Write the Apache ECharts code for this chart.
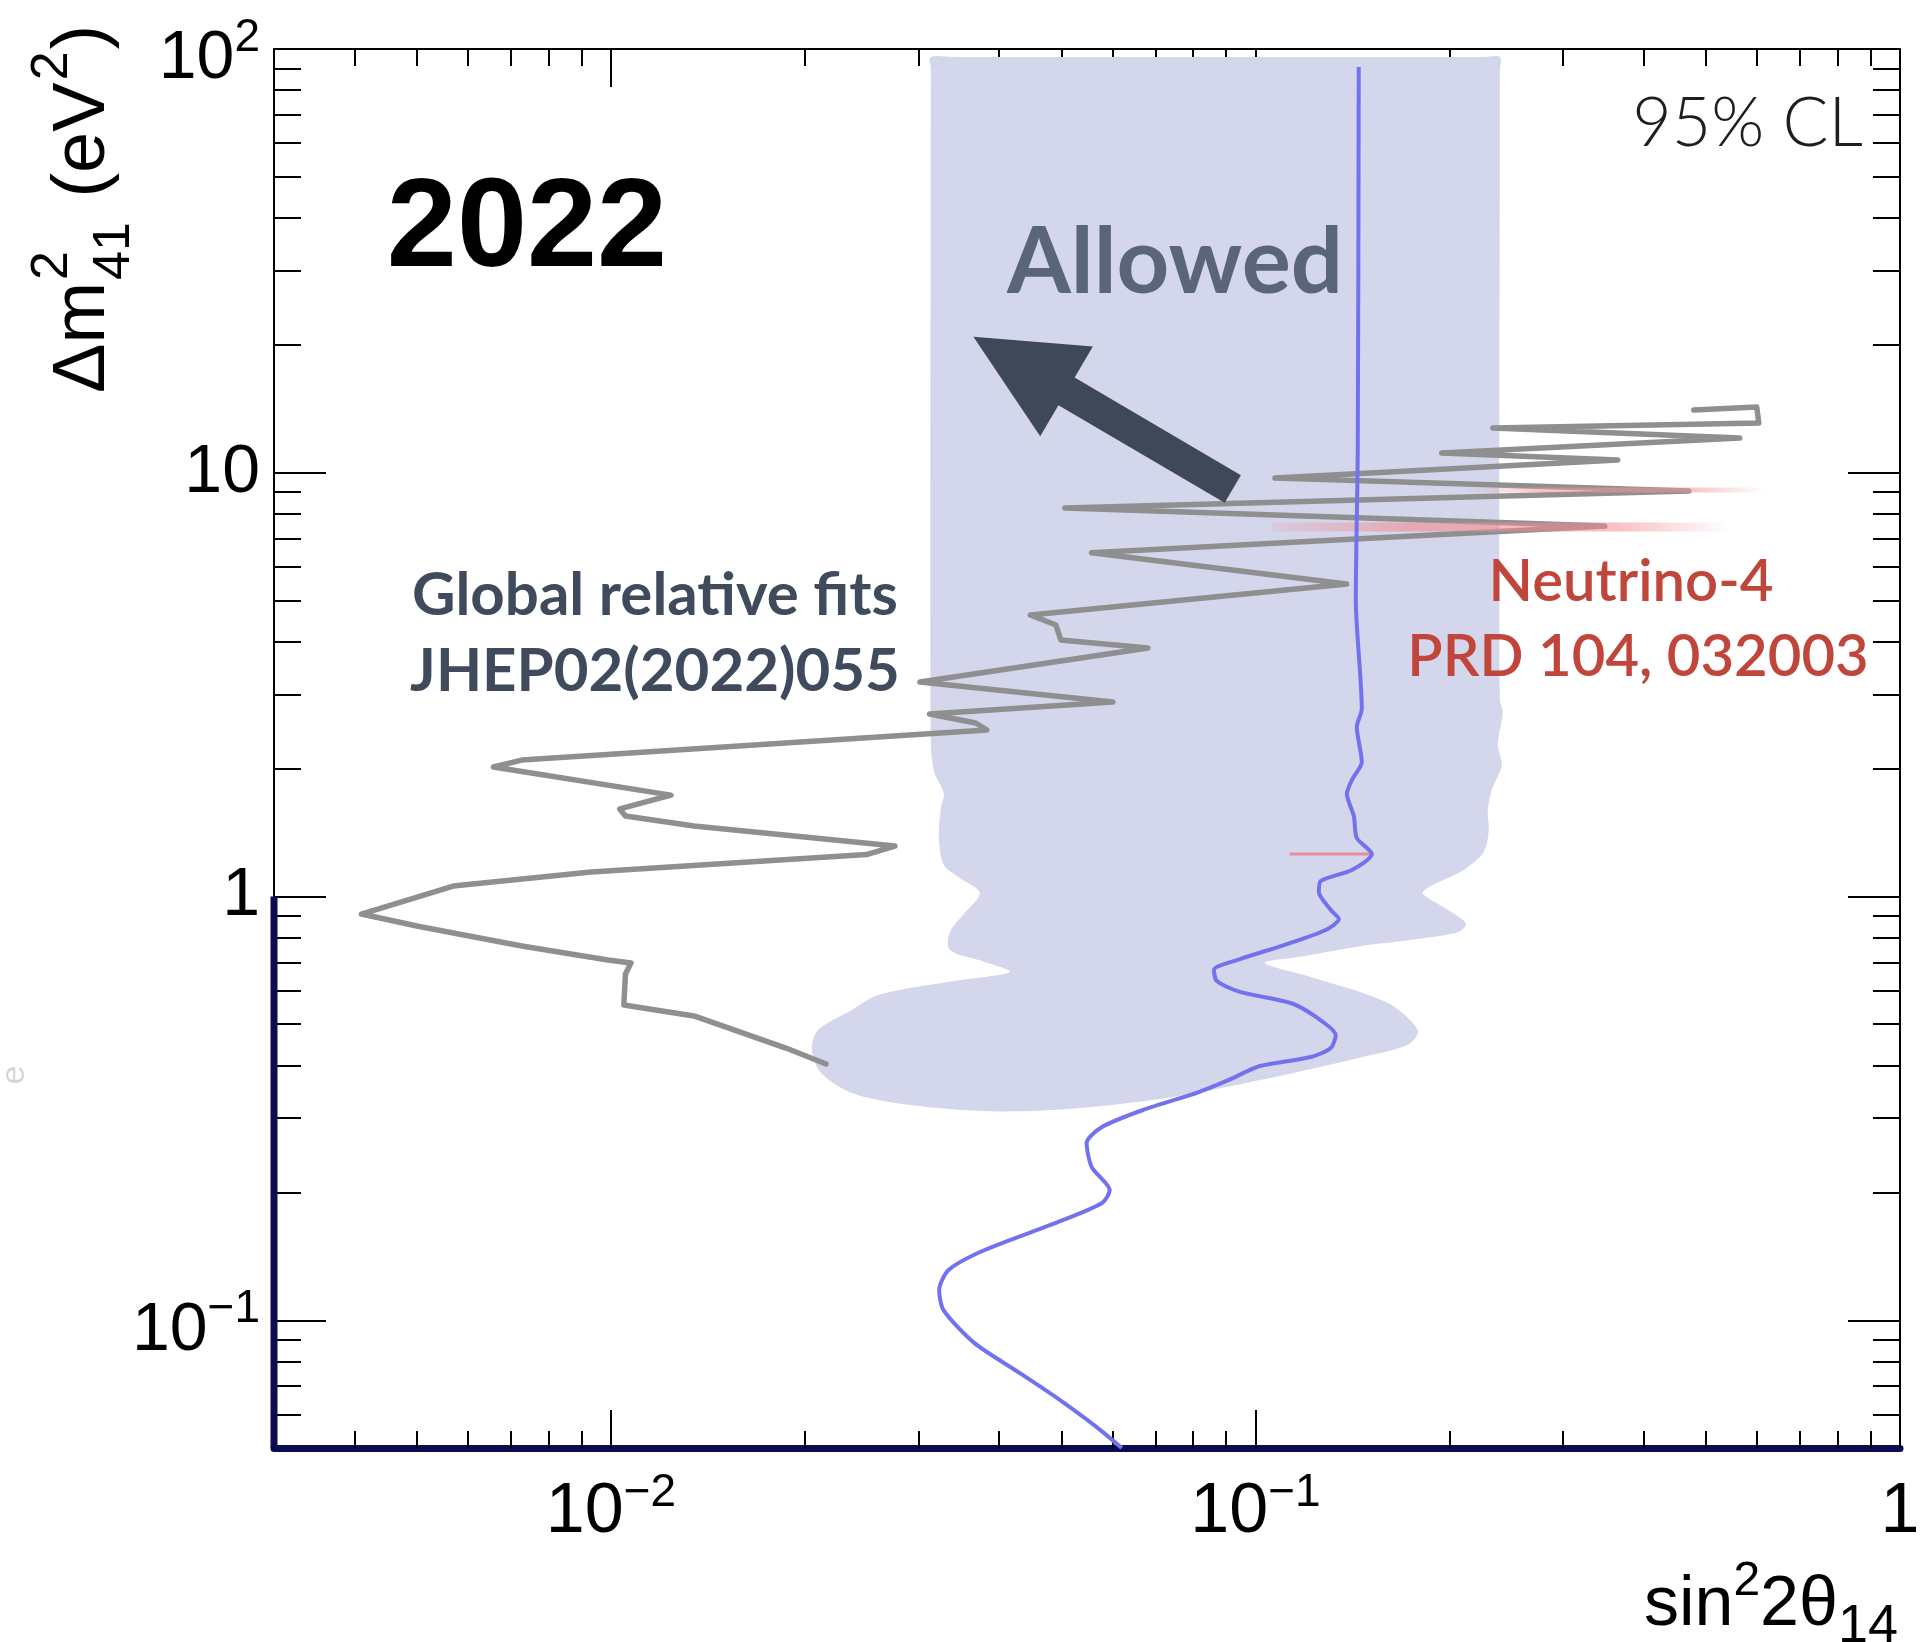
<!DOCTYPE html>
<html>
<head>
<meta charset="utf-8">
<script src="https://cdn.jsdelivr.net/npm/echarts@6.0.0/dist/echarts.min.js"></script>
<style>html,body{margin:0;padding:0;background:#fff}#chart{width:1920px;height:1642px}</style>
</head>
<body>
<div id="chart"></div>
<script>
// ---------------- data ----------------
const X_MIN = 0.003, X_MAX = 1;
const Y_MIN = 0.05, Y_MAX = 100;

const xMajorTicks = [0.01, 0.1, 1];
const xTickBase = ['10', '10', '1'];
const xTickExp = ['\u22122', '\u22121', ''];
const xMinorTicks = [0.004,0.005,0.006,0.007,0.008,0.009,0.02,0.03,0.04,0.05,0.06,0.07,0.08,0.09,0.2,0.3,0.4,0.5,0.6,0.7,0.8,0.9];

const yMajorTicks = [0.1, 1, 10, 100];
const yTickBase = ['10', '1', '10', '10'];
const yTickExp = ['\u22121', '', '', '2'];
const yMinorTicks = [0.06,0.07,0.08,0.09,0.2,0.3,0.4,0.5,0.6,0.7,0.8,0.9,2,3,4,5,6,7,8,9,20,30,40,50,60,70,80,90];

// "Allowed" region (sin^2 2theta, dm^2), closed outline
const allowedBand = [
  [0.03135,90],[0.03135,95.7],[0.034,95.7],[0.225,95.7],[0.2394,95.7],[0.2394,88],
  [0.2394,2.910],[0.2419,2.726],[0.2377,2.279],[0.2411,2.044],[0.2326,1.784],[0.2293,1.600],
  [0.2301,1.436],[0.2260,1.274],[0.2104,1.156],[0.1818,1.025],[0.1932,0.955],[0.2120,0.866],
  [0.2067,0.825],[0.1735,0.790],[0.1462,0.765],[0.1172,0.721],[0.1034,0.697],[0.1219,0.646],
  [0.1604,0.561],[0.1786,0.484],[0.1723,0.447],[0.1462,0.418],[0.1016,0.369],[0.0731,0.335],
  [0.0490,0.314],[0.03735,0.312],[0.02837,0.324],[0.02365,0.344],[0.02117,0.384],[0.02050,0.435],
  [0.02094,0.484],[0.02365,0.540],[0.02595,0.586],[0.03404,0.632],[0.04158,0.664],[0.03803,0.701],
  [0.03355,0.748],[0.03355,0.825],[0.03527,0.910],[0.03735,1.020],[0.03477,1.106],[0.03285,1.187],
  [0.03227,1.375],[0.03251,1.627],[0.03285,1.746],[0.03170,1.979],[0.03135,2.342]
];

// Global relative fits (JHEP02(2022)055)
const globalFit = [
  [0.02156,0.4027],[0.01868,0.4392],[0.01345,0.5229],[0.01047,0.5548],[0.01053,0.6568],
  [0.01074,0.6972],[0.00989,0.7087],[0.00727,0.7646],[0.00504,0.8500],[0.00410,0.9097],
  [0.00569,1.059],[0.00931,1.143],[0.02491,1.257],[0.02757,1.316],[0.01345,1.468],
  [0.01053,1.550],[0.01032,1.610],[0.01239,1.736],[0.00657,2.022],[0.00727,2.100],
  [0.03830,2.472],[0.03679,2.568],[0.03121,2.697],[0.06007,2.879],[0.03015,3.209],
  [0.06808,3.860],[0.04989,4.032],[0.04901,4.374],[0.04474,4.618],[0.1385,5.465],
  [0.05566,6.479],[0.3483,7.489],[0.05061,8.259],[0.4702,9.060],[0.1072,9.721],
  [0.3648,10.72],[0.1945,11.14],[0.5641,12.08],[0.2335,12.76],[0.6038,13.11],
  [0.5994,14.30],[0.4786,14.07]
];

// 95% CL exclusion contour (blue)
const exclusionCL95 = [
  [0.1446,90.7],[0.1441,11.32],[0.1431,5.01],[0.1462,2.771],[0.1436,2.513],[0.1462,2.078],
  [0.1411,1.884],[0.1386,1.746],[0.1421,1.550],[0.1436,1.375],[0.1516,1.260],[0.1411,1.156],
  [0.1263,1.089],[0.1254,1.025],[0.1309,0.930],[0.1347,0.885],[0.1285,0.834],[0.1110,0.769],
  [0.0946,0.712],[0.0862,0.671],[0.0871,0.632],[0.0946,0.596],[0.1134,0.561],[0.1241,0.520],
  [0.1332,0.4714],[0.1309,0.4393],[0.1219,0.4183],[0.1016,0.3983],[0.0909,0.3693],[0.0817,0.3458],
  [0.0669,0.3137],[0.0578,0.2860],[0.0547,0.2623],[0.0557,0.2301],[0.0594,0.2031],[0.0578,0.1892],
  [0.0490,0.1698],[0.0380,0.1466],[0.0334,0.1315],[0.0323,0.1179],[0.0328,0.1058],[0.0366,0.0885],
  [0.0431,0.0751],[0.0490,0.0659],[0.0567,0.0560],[0.0620,0.0500]
];

// Neutrino-4 (PRD 104, 032003) best-fit strips
const neutrino4A = [[0.212,9.11],[0.614,9.11]];
const neutrino4B = [[0.106,7.45],[0.535,7.45]];
const neutrino4C = [[0.113,1.26],[0.1516,1.26]];

// "Allowed" arrow, tail -> tip
const arrowTail = [0.0922, 9.16];
const arrowTip = [0.0365, 20.95];

// left frame highlight segment
const leftFrameSegment = [[X_MIN, Y_MIN],[X_MIN, 1]];

// ---------------- chart ----------------
const FONT = '"Liberation Sans", Arial, Helvetica, sans-serif';
const GILL = 'Lato, "Open Sans", "Noto Sans", sans-serif';
const L10 = Math.log10;

function labelFmt(ticks, bases, exps, padPlain) {
  return function (v) {
    const i = ticks.findIndex(t => Math.abs(L10(t) - v) < 1e-6);
    if (i < 0) return '';
    if (exps[i]) return '{bp|' + bases[i] + '}{s|' + exps[i] + '}';
    return (padPlain ? '{bp|' : '{b|') + bases[i] + '}';
  };
}

function tickAxis(kind, pos, ticks, len, opts) {
  const isX = kind === 'x';
  const a = {
    type: 'value', position: pos,
    min: isX ? L10(X_MIN) : L10(Y_MIN),
    max: isX ? L10(X_MAX) : L10(Y_MAX),
    axisLine: { show: !!opts.line, onZero: false, lineStyle: opts.line || {} },
    axisTick: { show: true, inside: true, length: len, customValues: ticks.map(L10),
                lineStyle: { color: '#000', width: 2 } },
    axisLabel: { show: false },
    splitLine: { show: false }
  };
  if (opts.label) a.axisLabel = opts.label;
  return a;
}

const xLabel = {
  show: true, margin: 22,
  customValues: xMajorTicks.map(L10),
  formatter: labelFmt(xMajorTicks, xTickBase, xTickExp, true),
  rich: {
    b: { fontSize: 70, lineHeight: 70, fontFamily: FONT, color: '#000' },
    bp: { fontSize: 70, lineHeight: 70, padding: [15, 0, 0, 0], fontFamily: FONT, color: '#000' },
    s: { fontSize: 46, lineHeight: 50, verticalAlign: 'top', fontFamily: FONT, color: '#000' }
  }
};
const yLabel = {
  show: true, margin: 14,
  customValues: yMajorTicks.map(L10),
  formatter: labelFmt(yMajorTicks, yTickBase, yTickExp, false),
  rich: {
    b: { fontSize: 68, lineHeight: 68, fontFamily: FONT, color: '#000' },
    bp: { fontSize: 68, lineHeight: 68, padding: [21, 0, 0, 0], fontFamily: FONT, color: '#000' },
    s: { fontSize: 46, lineHeight: 48, verticalAlign: 'top', fontFamily: FONT, color: '#000' }
  }
};

const NAVY = { color: '#0b0b52', width: 7 };
const THIN = { color: '#000', width: 2 };

const xAxes = [
  { type: 'log', logBase: 10, min: X_MIN, max: X_MAX, show: false, axisLine: { onZero: false } },
  tickAxis('x', 'bottom', xMajorTicks, 38, { line: NAVY, label: xLabel }),
  tickAxis('x', 'bottom', xMinorTicks, 17, {}),
  tickAxis('x', 'top', xMajorTicks, 38, { line: THIN }),
  tickAxis('x', 'top', xMinorTicks, 17, {})
];
const yAxes = [
  { type: 'log', logBase: 10, min: Y_MIN, max: Y_MAX, show: false, axisLine: { onZero: false } },
  tickAxis('y', 'left', yMajorTicks, 52, { line: THIN, label: yLabel }),
  tickAxis('y', 'left', yMinorTicks, 27, {}),
  tickAxis('y', 'right', yMajorTicks, 52, { line: THIN }),
  tickAxis('y', 'right', yMinorTicks, 27, {})
];

// y-axis title with stacked super/subscript
const mctx = document.createElement('canvas').getContext('2d');
function tw(t, size) { mctx.font = size + 'px ' + FONT; return mctx.measureText(t).width; }
function yTitle() {
  const F = 74, f = 52;
  const kids = [];
  const add = (t, x, y, size) => kids.push({ type: 'text', x: x, y: y,
    style: { text: t, fontSize: size, fontFamily: FONT, fill: '#000', align: 'left', verticalAlign: 'middle' } });
  let x = 0;
  add('\u0394m', x, 0, F); x += tw('\u0394m', F) + 2;
  add('2', x, -31, f); add('41', x, 31, f);
  x += Math.max(tw('2', f), tw('41', f)) + 4;
  add(' (eV', x, 0, F); x += tw(' (eV', F) + 2;
  add('2', x, -31, f); x += tw('2', f) + 2;
  add(')', x, 0, F);
  return { type: 'group', x: 84, y: 393, rotation: Math.PI / 2, children: kids };
}

const chart = echarts.init(document.getElementById('chart'), null, { renderer: 'canvas' });
chart.setOption({
  animation: false,
  backgroundColor: '#ffffff',
  grid: { left: 274, right: 20, top: 49, bottom: 194, containLabel: false, outerBoundsMode: 'none' },
  xAxis: xAxes,
  yAxis: yAxes,
  series: [
    {
      name: 'Allowed', type: 'custom', xAxisIndex: 0, yAxisIndex: 0, silent: true, z: 1,
      data: [[X_MIN, Y_MIN]],
      renderItem: function (params, api) {
        const pts = allowedBand.map(p => api.coord(p));
        return { type: 'polygon', shape: { points: pts, smooth: 0.3 }, style: { fill: '#d4d6ec' } };
      }
    },
    {
      name: 'Global relative fits', type: 'line', xAxisIndex: 0, yAxisIndex: 0, z: 3,
      data: globalFit, showSymbol: false, smooth: false,
      lineStyle: { color: '#8f8f8f', width: 5.5, join: 'round', cap: 'round' }
    },
    {
      name: 'Neutrino-4 A', type: 'line', xAxisIndex: 0, yAxisIndex: 0, z: 4, data: neutrino4A, showSymbol: false,
      lineStyle: { width: 5, color: new echarts.graphic.LinearGradient(0, 0, 1, 0, [
        { offset: 0, color: 'rgba(240,150,150,0)' }, { offset: 0.25, color: 'rgba(240,150,150,0.55)' },
        { offset: 0.75, color: 'rgba(240,150,150,0.55)' }, { offset: 1, color: 'rgba(240,150,150,0)' }]) }
    },
    {
      name: 'Neutrino-4 B', type: 'line', xAxisIndex: 0, yAxisIndex: 0, z: 4, data: neutrino4B, showSymbol: false,
      lineStyle: { width: 9, color: new echarts.graphic.LinearGradient(0, 0, 1, 0, [
        { offset: 0, color: 'rgba(240,140,145,0.15)' }, { offset: 0.3, color: 'rgba(240,140,145,0.6)' },
        { offset: 0.75, color: 'rgba(240,140,145,0.55)' }, { offset: 1, color: 'rgba(240,140,145,0)' }]) }
    },
    {
      name: 'Neutrino-4 C', type: 'line', xAxisIndex: 0, yAxisIndex: 0, z: 4, data: neutrino4C, showSymbol: false,
      lineStyle: { width: 3, color: 'rgba(232,120,125,0.75)' }
    },
    {
      name: '95% CL', type: 'line', xAxisIndex: 0, yAxisIndex: 0, z: 5,
      data: exclusionCL95, showSymbol: false, smooth: 0.25,
      lineStyle: { color: '#7272ee', width: 4 }
    },
    {
      name: 'arrow', type: 'custom', xAxisIndex: 0, yAxisIndex: 0, silent: true, z: 6,
      data: [[arrowTail[0], arrowTail[1], arrowTip[0], arrowTip[1]]],
      renderItem: function (params, api) {
        const tail = api.coord(arrowTail), tip = api.coord(arrowTip);
        const dx = tip[0] - tail[0], dy = tip[1] - tail[1], L = Math.hypot(dx, dy);
        const ux = dx / L, uy = dy / L, px = -uy, py = ux;
        const hl = 108, hw = 52, sw = 16;
        const bx = tip[0] - ux * hl, by = tip[1] - uy * hl;
        const pts = [
          [tail[0] + px * sw, tail[1] + py * sw], [bx + px * sw, by + py * sw], [bx + px * hw, by + py * hw],
          tip, [bx - px * hw, by - py * hw], [bx - px * sw, by - py * sw], [tail[0] - px * sw, tail[1] - py * sw]
        ];
        return { type: 'polygon', shape: { points: pts }, style: { fill: '#3e4858' } };
      }
    },
    {
      name: 'frame', type: 'line', xAxisIndex: 0, yAxisIndex: 0, z: 7, clip: false,
      data: leftFrameSegment, showSymbol: false, silent: true,
      lineStyle: { color: '#0b0b52', width: 7, cap: 'butt' }
    }
  ],
  graphic: [
    { type: 'text', x: 527, y: 231, z: 100,
      style: { text: '2022', fontSize: 126, fontWeight: 'bold', fontFamily: FONT, fill: '#000', align: 'center', verticalAlign: 'middle' } },
    { type: 'text', x: 1863, y: 124, z: 100,
      style: { text: '95% CL', fontSize: 68, fontWeight: 300, fontFamily: GILL, fill: '#1e1e1e', align: 'right', verticalAlign: 'middle' } },
    { type: 'text', x: 1175, y: 263, z: 100,
      style: { text: 'Allowed', fontSize: 92, fontWeight: 'bold', fontFamily: GILL, fill: '#5b6579', align: 'center', verticalAlign: 'middle' } },
    { type: 'text', x: 655, y: 596, z: 100,
      style: { text: 'Global relative fits', fontSize: 60, fontWeight: 'bold', fontFamily: GILL, fill: '#3f4b5d', align: 'center', verticalAlign: 'middle' } },
    { type: 'text', x: 655, y: 672, z: 100,
      style: { text: 'JHEP02(2022)055', fontSize: 60, fontWeight: 'bold', fontFamily: GILL, fill: '#3f4b5d', align: 'center', verticalAlign: 'middle' } },
    { type: 'text', x: 1631, y: 582, z: 100,
      style: { text: 'Neutrino-4', fontSize: 58, fontWeight: 600, fontFamily: GILL, fill: '#c0463b', align: 'center', verticalAlign: 'middle' } },
    { type: 'text', x: 1638, y: 657, z: 100,
      style: { text: 'PRD 104, 032003', fontSize: 58, fontWeight: 600, fontFamily: GILL, fill: '#c0463b', align: 'center', verticalAlign: 'middle' } },
    { type: 'text', x: 1898, y: 1606, z: 100,
      style: { text: '{m|sin}{sup|2}{m|2\u03b8}{sub|14}', align: 'right', verticalAlign: 'middle',
        rich: {
          m: { fontSize: 70, lineHeight: 96, fontFamily: FONT, fill: '#000' },
          sup: { fontSize: 48, lineHeight: 48, verticalAlign: 'top', fontFamily: FONT, fill: '#000' },
          sub: { fontSize: 54, lineHeight: 54, verticalAlign: 'bottom', fontFamily: FONT, fill: '#000' }
        } } },
    yTitle(),
    { type: 'text', x: 15, y: 1075, rotation: Math.PI / 2, z: 100,
      style: { text: 'e', fontSize: 34, fontFamily: FONT, fill: '#d6d6d6', align: 'center', verticalAlign: 'middle' } }
  ]
});
</script>
</body>
</html>
